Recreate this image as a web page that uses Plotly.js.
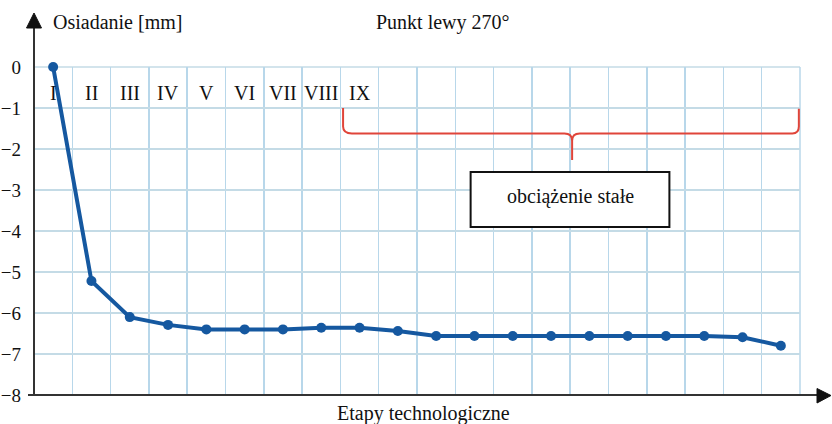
<!DOCTYPE html>
<html>
<head>
<meta charset="utf-8">
<script src="https://cdn.plot.ly/plotly-3.0.1.min.js"></script>
<style>html,body{margin:0;padding:0;background:#fff}#chart{width:832px;height:424px}</style>
</head>
<body>
<div id="chart"></div>
<script>
// Data
const stages = [1,2,3,4,5,6,7,8,9,10,11,12,13,14,15,16,17,18,19,20];
const settlement = [0, -5.22, -6.1, -6.29, -6.4, -6.4, -6.4, -6.36, -6.36, -6.44, -6.56, -6.56, -6.56, -6.56, -6.56, -6.56, -6.56, -6.56, -6.59, -6.8];
const stageLabels = ["I","II","III","IV","V","VI","VII","VIII","IX"];

const W = 832, H = 424, mL = 34, mR = 32, mT = 67, mB = 29;
const pw = W - mL - mR, ph = H - mT - mB;
const px = x => (x - mL) / pw;
const py = y => (H - mB - y) / ph;

const serif = "Liberation Serif";

const trace = {
  x: stages, y: settlement, type: 'scatter', mode: 'lines+markers',
  line: {color: '#1558a0', width: 4},
  marker: {color: '#1558a0', size: 10},
  hoverinfo: 'skip', showlegend: false, cliponaxis: false
};

const annotations = stageLabels.map((t, i) => ({
  x: stages[i], y: -0.64, xref: 'x', yref: 'y', text: t, showarrow: false,
  font: {family: serif, size: 20, color: '#111'}, xanchor: 'center', yanchor: 'middle'
}));
annotations.push(
  {xref: 'paper', yref: 'paper', x: px(51), y: py(22), text: 'Osiadanie [mm]', showarrow: false,
   xanchor: 'left', yanchor: 'middle', font: {family: serif, size: 20, color: '#111'}},
  {xref: 'paper', yref: 'paper', x: px(443), y: py(22), text: 'Punkt lewy 270°', showarrow: false,
   xanchor: 'center', yanchor: 'middle', font: {family: serif, size: 20, color: '#111'}},
  {xref: 'paper', yref: 'paper', x: px(423), y: py(413), text: 'Etapy technologiczne', showarrow: false,
   xanchor: 'center', yanchor: 'middle', font: {family: serif, size: 20, color: '#111'}},
  {xref: 'x', yref: 'y', x: 14.5, y: -3.17, text: 'obciążenie stałe', showarrow: false,
   xanchor: 'center', yanchor: 'middle', font: {family: serif, size: 20, color: '#111'}}
);

const shapes = [
  // top and right grid border
  {type: 'line', xref: 'paper', yref: 'paper', x0: 0, x1: 1, y0: 1, y1: 1,
   line: {color: '#c4dbe6', width: 1.5}, layer: 'below'},
  {type: 'line', xref: 'paper', yref: 'paper', x0: 1, x1: 1, y0: 0, y1: 1,
   line: {color: '#b8d7ea', width: 1.5}, layer: 'below'},
  // box
  {type: 'rect', xref: 'x', yref: 'y', x0: 11.9, x1: 17.09, y0: -2.56, y1: -3.9,
   line: {color: '#111', width: 2}, fillcolor: '#fff', layer: 'above'},
  // brace
  {type: 'path', xref: 'x', yref: 'y', layer: 'above', line: {color: '#e0453a', width: 2},
   path: 'M 8.57,-1.0 L 8.57,-1.45 Q 8.57,-1.62 8.8,-1.62 L 14.35,-1.62 Q 14.55,-1.62 14.55,-1.8 L 14.55,-2.27 M 14.55,-1.8 Q 14.55,-1.62 14.75,-1.62 L 20.3,-1.62 Q 20.47,-1.62 20.47,-1.45 L 20.47,-1.02'},
  // y axis line
  {type: 'line', xref: 'paper', yref: 'paper', x0: px(34), x1: px(34), y0: py(396), y1: py(22),
   line: {color: '#333', width: 2}, layer: 'above'},
  // x axis line
  {type: 'line', xref: 'paper', yref: 'paper', x0: px(28), x1: px(822), y0: py(395), y1: py(395),
   line: {color: '#333', width: 2}, layer: 'above'},
  // arrow heads
  {type: 'path', xref: 'paper', yref: 'paper', layer: 'above', fillcolor: '#111', line: {color: '#111', width: 1},
   path: `M ${px(34)},${py(13)} L ${px(26.5)},${py(28)} L ${px(41.5)},${py(28)} Z`},
  {type: 'path', xref: 'paper', yref: 'paper', layer: 'above', fillcolor: '#111', line: {color: '#111', width: 1},
   path: `M ${px(831)},${py(395.5)} L ${px(817)},${py(388.5)} L ${px(817)},${py(403)} Z`}
];

const layout = {
  width: W, height: H,
  margin: {l: mL, r: mR, t: mT, b: mB, pad: 0},
  paper_bgcolor: '#fff', plot_bgcolor: '#fff',
  showlegend: false,
  font: {family: serif},
  xaxis: {range: [0.5, 20.5], tick0: 0.5, dtick: 1, showgrid: true, gridcolor: '#b8d7ea', gridwidth: 1.5,
          showticklabels: false, ticks: '', zeroline: false, showline: false, fixedrange: true},
  yaxis: {range: [-8, 0], tickmode: 'linear', tick0: 0, dtick: 1, showgrid: true,
          gridcolor: '#c4dbe6', gridwidth: 1.5, zeroline: false, showline: false, ticks: '',
          ticklabelstandoff: 12, tickfont: {family: serif, size: 19, color: '#111'}, fixedrange: true},
  annotations: annotations,
  shapes: shapes
};

Plotly.newPlot('chart', [trace], layout, {displayModeBar: false, staticPlot: true});
</script>
</body>
</html>
